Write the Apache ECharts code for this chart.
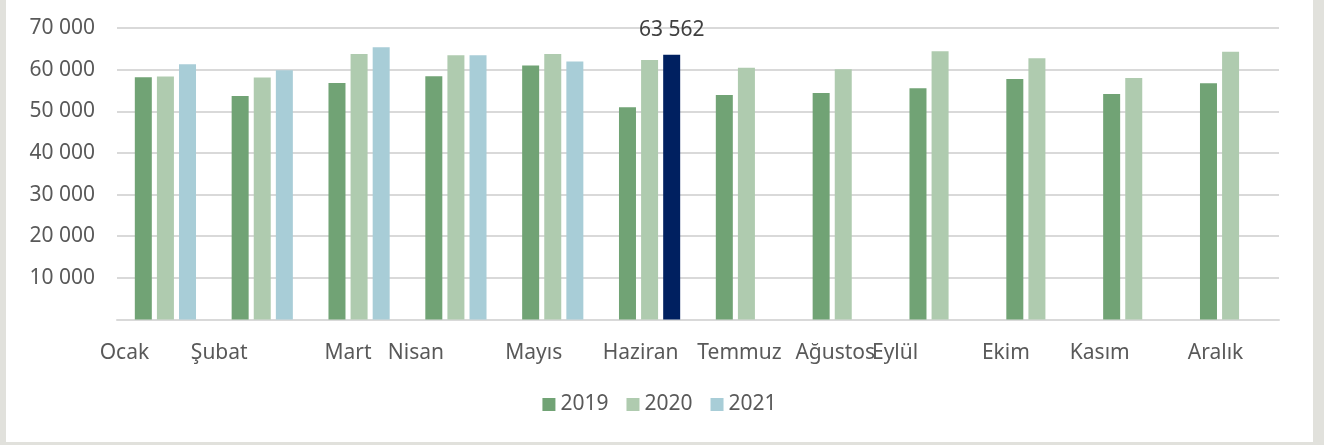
<!DOCTYPE html>
<html>
<head>
<meta charset="utf-8">
<script src="https://cdn.jsdelivr.net/npm/echarts@6/dist/echarts.min.js"></script>
<style>
  html, body { margin: 0; padding: 0; background: #e1e1dc; }
  #chart {
    position: absolute; left: 6px; top: 0;
    width: 1307px; height: 442px; background: #fff;
  }
</style>
</head>
<body>
<div id="chart"></div>
<script>
// aylar ve yıllar
var months = ['Ocak', 'Şubat', 'Mart', 'Nisan', 'Mayıs', 'Haziran', 'Temmuz', 'Ağustos', 'Eylül', 'Ekim', 'Kasım', 'Aralık']
var years = ['2019', '2020', '2021']
var v2019 = [58180, 53700, 56820, 58420, 60970, 50980, 53940, 54420, 55540, 57770, 54180, 56740]
var v2020 = [58340, 58090, 63770, 63450, 63770, 62330, 60480, 60120, 64410, 62730, 58010, 64320]
var v2021 = [61290, 59850, 65370, 63450, 61930, 63562, null, null, null, null, null, null]
var highlightIndex = 5
var yTicks = [0, 10000, 20000, 30000, 40000, 50000, 60000, 70000]

// label nudges (px) so the month names sit like the original
var labelNudge = [-41, -43, -11, -40, -19, -9, -7, -8, -45, -31, -34, -15]

var colors = ['#71a375', '#afcbaf', '#a8cdd7']
var navy = '#002060'
var font = 'Noto Sans'
var fs = 21

function fmt(n) {
  return String(n).replace(/\B(?=(\d{3})+(?!\d))/g, ' ')
}

var rich = {}
labelNudge.forEach(function (d, i) {
  rich['m' + i] = {
    fontFamily: font, fontSize: fs, color: '#595959',
    padding: d < 0 ? [0, -2 * d, 0, 0] : [0, 0, 0, 2 * d]
  }
})

var chart = echarts.init(document.getElementById('chart'))
var option = {
  animation: false,
  textStyle: { fontFamily: font },
  legend: {
    bottom: 22,
    left: 'center',
    itemWidth: 13,
    itemHeight: 13,
    itemGap: 18,
    icon: 'rect',
    textStyle: { fontSize: fs, color: '#595959', fontFamily: font },
    data: years
  },
  grid: { left: 111, right: 34, top: 28, bottom: 122.5, containLabel: false },
  xAxis: {
    type: 'category',
    data: months,
    axisTick: { show: false },
    axisLine: { lineStyle: { color: '#d9d9d9', width: 2 } },
    axisLabel: {
      interval: 0,
      margin: 23,
      formatter: function (v, i) { return '{m' + i + '|' + v + '}' },
      rich: rich
    }
  },
  yAxis: {
    type: 'value',
    min: yTicks[0],
    max: yTicks[yTicks.length - 1],
    interval: 10000,
    axisLine: { show: false },
    axisTick: { show: false },
    splitLine: { lineStyle: { color: '#d9d9d9', width: 2 } },
    axisLabel: {
      margin: 22,
      fontSize: fs,
      color: '#595959',
      fontFamily: font,
      formatter: function (v) { return v === 0 ? '' : fmt(v) }
    }
  },
  series: [
    { name: years[0], type: 'bar', data: v2019, barWidth: 17, barGap: '30%', itemStyle: { color: colors[0] } },
    { name: years[1], type: 'bar', data: v2020, barWidth: 17, barGap: '30%', itemStyle: { color: colors[1] } },
    {
      name: years[2], type: 'bar', barWidth: 17, barGap: '30%',
      itemStyle: { color: colors[2] },
      data: v2021.map(function (v, i) {
        if (i !== highlightIndex) return v
        return {
          value: v,
          itemStyle: { color: navy },
          label: {
            show: true, position: 'top', distance: 14,
            fontSize: fs, color: '#404040', fontFamily: font,
            formatter: function (p) { return fmt(p.value) }
          }
        }
      })
    }
  ]
}
chart.setOption(option)
</script>
</body>
</html>
